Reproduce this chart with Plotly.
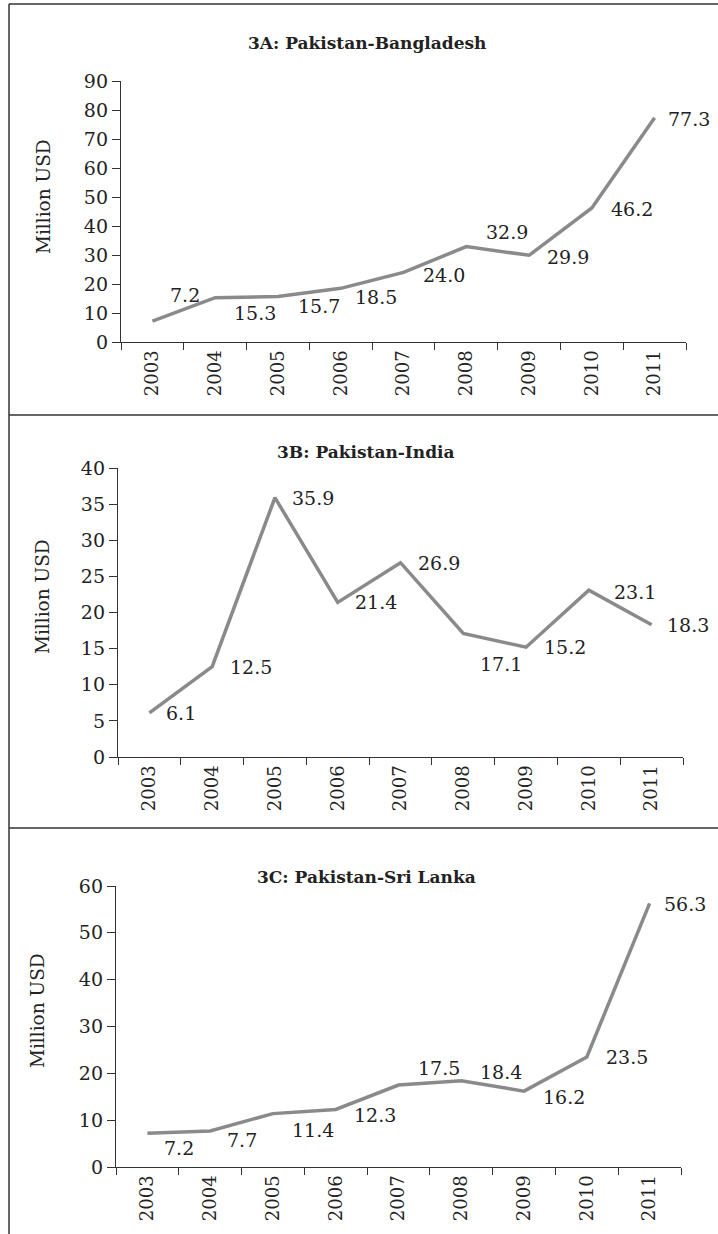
import plotly.graph_objects as go

years = ["2003", "2004", "2005", "2006", "2007", "2008", "2009", "2010", "2011"]
bangladesh = [7.2, 15.3, 15.7, 18.5, 24.0, 32.9, 29.9, 46.2, 77.3]
india = [6.1, 12.5, 35.9, 21.4, 26.9, 17.1, 15.2, 23.1, 18.3]
srilanka = [7.2, 7.7, 11.4, 12.3, 17.5, 18.4, 16.2, 23.5, 56.3]

titles = ["3A: Pakistan-Bangladesh", "3B: Pakistan-India", "3C: Pakistan-Sri Lanka"]
y_max = [90, 40, 60]
y_dtick = [10, 5, 10]

# label offsets in pixels (style only)
label_dx = [
    [33, 40, 41, 35, 40, 41, 39, 40, 34],
    [32, 39, 38, 38, 38, 38, 39, 46, 36],
    [32, 32, 40, 39, 40, 40, 40, 40, 35],
]
label_dy = [
    [-26, 15, 10, 9, 3, -15, 2, 1, 1],
    [0, 0, 0, 0, 0, 31, 0, 2, 0],
    [15, 9, 16, 6, -17, -9, 6, 0, 1],
]

W, H = 718, 1234
def px(x):
    return x / W
def py(y):
    return 1 - y / H

# panel geometry in pixels: x0, x1, ybottom, ytop
panels = [
    (121, 686, 342, 81),
    (118, 683, 757, 468),
    (116, 681, 1167, 886),
]
title_pos = [(367, 43), (366, 452), (366, 877)]
ylabel_pos = [(43, 197), (42, 597), (38, 1011)]

FONT = "DejaVu Serif"
TXT = "#222222"
AX = "#333333"

series = [bangladesh, india, srilanka]
fig = go.Figure()
annotations = []
layout = {}
for i, vals in enumerate(series):
    n = "" if i == 0 else str(i + 1)
    xa, ya = "x" + n, "y" + n
    fig.add_trace(go.Scatter(
        x=years, y=vals, mode="lines", xaxis=xa, yaxis=ya,
        line=dict(color="#8a8a8a", width=3.5), hoverinfo="skip", showlegend=False,
    ))
    x0, x1, yb, yt = panels[i]
    layout["xaxis" + n] = dict(
        domain=[px(x0), px(x1)], anchor=ya, type="category", automargin=False,
        range=[-0.5, 8.5], tickson="boundaries", ticks="outside", ticklen=7,
        tickwidth=1.3, tickcolor=AX, showline=True, linecolor=AX, linewidth=1.3,
        showgrid=False, zeroline=False, tickangle=-90,
        tickfont=dict(family=FONT, size=18, color=TXT),
    )
    layout["yaxis" + n] = dict(
        domain=[py(yb), py(yt)], anchor=xa, range=[0, y_max[i]], dtick=y_dtick[i],
        automargin=False,
        ticks="outside", ticklen=8, tickwidth=1.3, tickcolor=AX,
        showline=True, linecolor=AX, linewidth=1.3, showgrid=False, zeroline=False,
        tickfont=dict(family=FONT, size=19, color=TXT),
    )
    for j, v in enumerate(vals):
        annotations.append(dict(
            x=j, y=v, xref=xa, yref=ya, text=f"{v:.1f}", showarrow=False,
            xanchor="center", yanchor="middle", xshift=label_dx[i][j], yshift=-label_dy[i][j],
            font=dict(family=FONT, size=19, color=TXT),
        ))
    tx, ty = title_pos[i]
    annotations.append(dict(
        x=px(tx), y=py(ty), xref="paper", yref="paper", text="<b>" + titles[i] + "</b>",
        showarrow=False, xanchor="center", yanchor="middle",
        font=dict(family=FONT, size=17, color=TXT),
    ))
    lx, ly = ylabel_pos[i]
    annotations.append(dict(
        x=px(lx), y=py(ly), xref="paper", yref="paper", text="Million USD",
        showarrow=False, xanchor="center", yanchor="middle", textangle=-90,
        font=dict(family=FONT, size=18.5, color=TXT),
    ))

shapes = [
    dict(type="line", xref="paper", yref="paper", x0=px(9), x1=px(9), y0=py(4), y1=0,
         line=dict(color=AX, width=1.5)),
    dict(type="line", xref="paper", yref="paper", x0=px(9), x1=1, y0=py(4), y1=py(4),
         line=dict(color=AX, width=1.5)),
    dict(type="line", xref="paper", yref="paper", x0=px(9), x1=1, y0=py(415), y1=py(415),
         line=dict(color=AX, width=1.5)),
    dict(type="line", xref="paper", yref="paper", x0=px(9), x1=1, y0=py(828), y1=py(828),
         line=dict(color=AX, width=1.5)),
]

fig.update_layout(
    width=W, height=H, margin=dict(l=0, r=0, t=0, b=0, pad=0, autoexpand=False),
    paper_bgcolor="white", plot_bgcolor="white",
    annotations=annotations, shapes=shapes, **layout,
)
fig.write_html(
    "out.html",
    config={"displayModeBar": False},
    post_script="document.body.style.margin='0';document.body.style.overflow='hidden';",
)
